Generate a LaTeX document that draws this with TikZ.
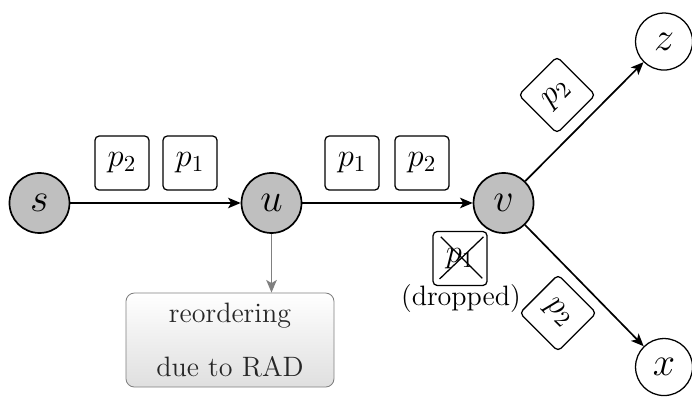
\documentclass[tikz,border=0pt]{standalone}
\usepackage{fix-cm}
\usepackage{amsmath}
\usepackage{amssymb}
\usetikzlibrary{arrows.meta}
\usetikzlibrary{calc}

\begin{document}
\begin{tikzpicture}[
    host/.style={circle, draw, thick, fill=gray!50, minimum size=1cm, inner sep=0pt, font=\fontsize{19}{22}\selectfont},
    sink/.style={circle, draw, semithick, minimum size=0.95cm, inner sep=0pt, font=\fontsize{19}{22}\selectfont},
    pkt/.style={draw, semithick, rounded corners=2pt, minimum size=0.9cm, inner sep=0pt, font=\fontsize{15.5}{18}\selectfont},
    link/.style={-{Stealth[length=6pt, width=5pt, inset=1.5pt]}, thick},
    txt/.style={font=\fontsize{13.3}{26}\selectfont}
]
    %% canvas
    \useasboundingbox (0,0) rectangle (11.533,-6.6);

    %% hosts
    \node[host] (s) at (0.658,-3.383) {$s$};
    \node[host] (u) at (4.525,-3.383) {$u$};
    \node[host] (v) at (8.392,-3.383) {$v$};
    \node[sink] (z) at (11.067,-0.692) {$z$};
    \node[sink] (x) at (11.067,-6.117) {$x$};

    %% reordering box
    \node[draw=gray, rounded corners=4pt, top color=white, bottom color=gray!25,
          minimum width=3.467cm, minimum height=1.567cm, align=center, text=black!85, txt]
          (rad) at (3.833,-5.667) {reordering\\due to RAD};

    %% links
    \draw[link] (s) -- (u);
    \draw[link] (u) -- (v);
    \draw[link] (v) -- (z);
    \draw[link] (v) -- (x);
    \draw[link, gray] (u) -- (u |- rad.north);

    %% packets
    \node[pkt] (su2) at (2.033,-2.717) {$p_2$};
    \node[pkt] (su1) at (3.167,-2.717) {$p_1$};
    \node[pkt] (uv1) at (5.867,-2.717) {$p_1$};
    \node[pkt] (uv2) at (7.033,-2.717) {$p_2$};
    \node[pkt, rotate=45] (vz2) at (9.283,-1.583) {$p_2$};
    \node[pkt, rotate=-45] (vx2) at (9.3,-5.217) {$p_2$};

    %% dropped packet
    \node[pkt] (drop) at (7.667,-4.308) {$p_1$};
    \draw[semithick] ($(drop.north west)+(0.14,-0.1)$) -- ($(drop.south east)+(-0.09,0.13)$);
    \draw[semithick] ($(drop.south west)+(0.12,0.12)$) -- ($(drop.north east)+(-0.07,-0.1)$);
    \node[txt] (droplbl) at (7.683,-4.983) {(dropped)};
\end{tikzpicture}
\end{document}
